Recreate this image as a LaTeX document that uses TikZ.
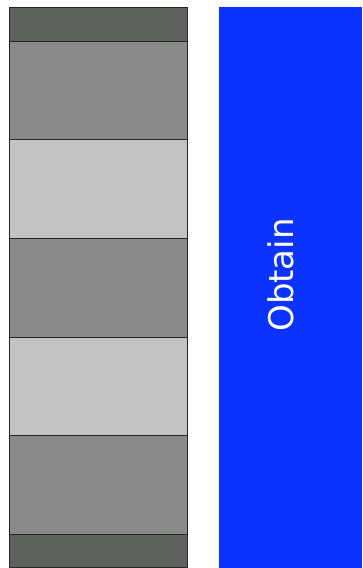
\documentclass[tikz,border=0pt]{standalone}
\usepackage{fontspec}
\setmainfont{DejaVu Sans}
\definecolor{stripdark}{HTML}{5F615F}
\definecolor{stripmid}{HTML}{8A8A8A}
\definecolor{striplight}{HTML}{C3C3C3}
\definecolor{panelblue}{HTML}{0C33FF}
\begin{document}
\begin{tikzpicture}[x=1pt, y=-1pt, line join=round,
  strip/.style={draw=black!85, line width=0.9pt}]
\useasboundingbox (0,0) rectangle (362,568);
% column of stripes
\foreach \ytop/\ybot/\col in {7/41/stripdark, 41/139/stripmid, 139/238/striplight, 238/337/stripmid, 337/435/striplight, 435/534/stripmid, 534/567/stripdark}
  \draw[strip, fill=\col] (9.5,\ytop) rectangle (187.5,\ybot);
% blue panel
\fill[panelblue] (219,7) rectangle (362,568);
\node[text=white, font=\fontsize{34}{40}\selectfont, rotate=90] (obtain) at (281,275) {Obtain};
\end{tikzpicture}
\end{document}
